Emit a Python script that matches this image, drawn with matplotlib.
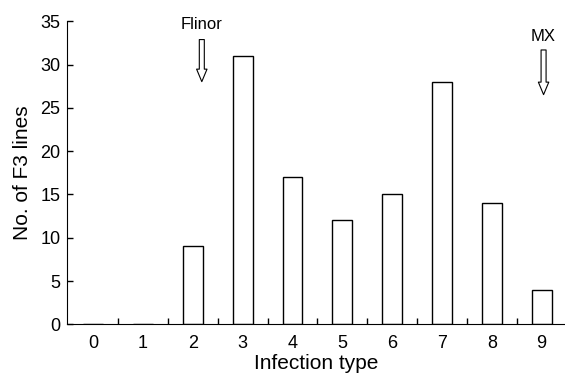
import numpy as np
import matplotlib.pyplot as plt

plt.rcParams['font.family'] = ['Liberation Sans', 'DejaVu Sans']

infection_type = [0, 1, 2, 3, 4, 5, 6, 7, 8, 9]
n_lines = [0, 0, 9, 31, 17, 12, 15, 28, 14, 4]

fig = plt.figure(figsize=(5.65, 3.76), dpi=100)
ax = fig.add_axes([0.1191, 0.1375, 0.8809, 0.8061])

x = np.arange(len(infection_type))
ax.bar(x, n_lines, width=0.40, color='white', edgecolor='black', linewidth=1.0)

ax.set_xlim(-0.52, 9.47)
ax.set_ylim(0, 35)
ax.set_yticks(range(0, 36, 5))
ax.set_xticks(x)
ax.set_xticklabels([str(t) for t in infection_type])
ax.set_xticks(np.arange(0.5, 9, 1), minor=True)
ax.tick_params(axis='x', which='major', length=0, pad=8, labelsize=13)
ax.tick_params(axis='x', which='minor', direction='in', length=4, width=1)
ax.tick_params(axis='y', direction='in', length=4, width=1, labelsize=13, pad=5)
ax.spines['top'].set_visible(False)
ax.spines['right'].set_visible(False)

ax.set_xlabel('Infection type', fontsize=15, labelpad=1)
ax.set_ylabel('No. of F3 lines', fontsize=15, labelpad=6)

arrow = dict(arrowstyle='simple,head_width=0.75,head_length=0.9,tail_width=0.36',
             fc='white', ec='black', lw=0.8, mutation_scale=10)
ax.annotate('', xy=(2.18, 27.7), xytext=(2.18, 33.2), arrowprops=arrow)
ax.text(2.18, 34.1, 'Flinor', ha='center', va='baseline', fontsize=12)
ax.annotate('', xy=(9.04, 26.2), xytext=(9.04, 32.0), arrowprops=arrow)
ax.text(9.04, 32.7, 'MX', ha='center', va='baseline', fontsize=12)

fig.savefig('out.png', dpi=100)
